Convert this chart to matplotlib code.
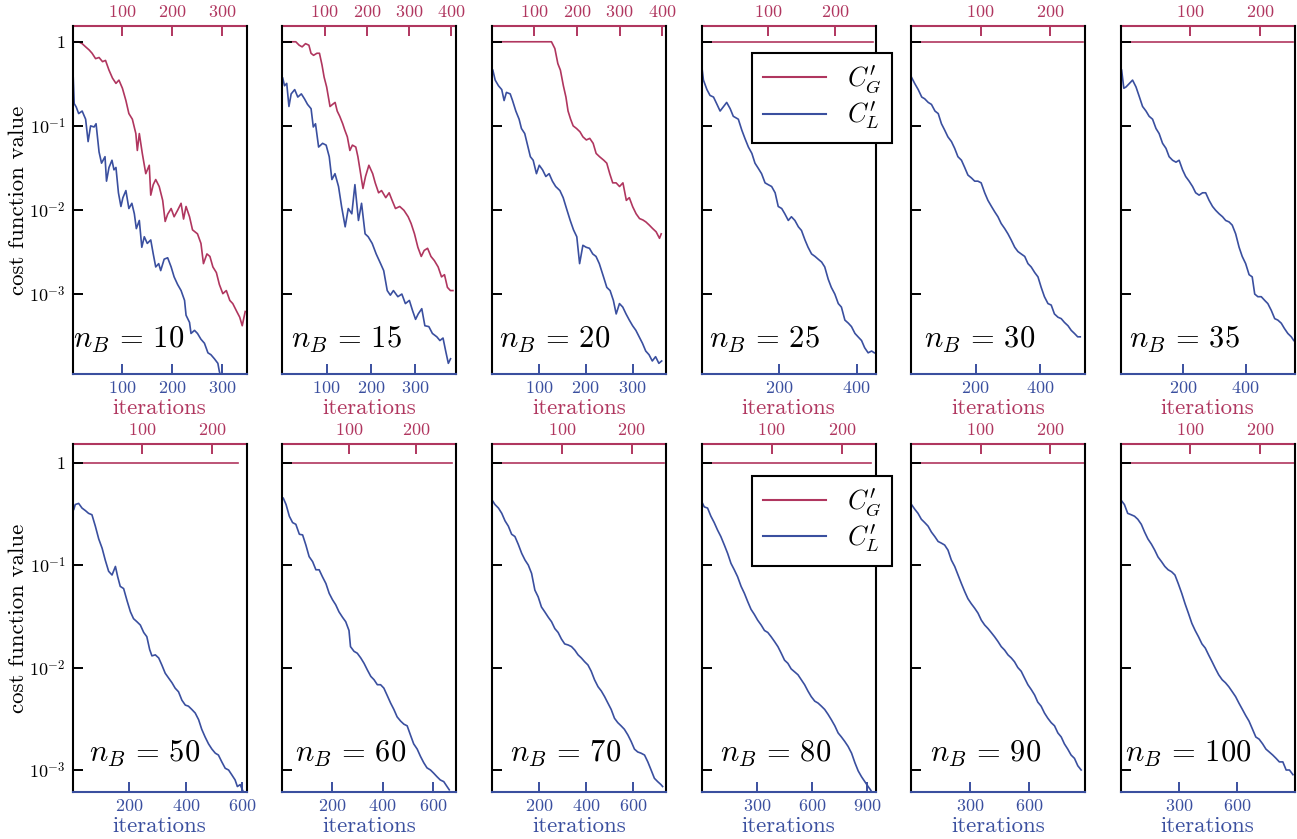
import matplotlib
matplotlib.use("Agg")
import matplotlib.pyplot as plt
from matplotlib.ticker import NullLocator
from matplotlib.lines import Line2D

plt.rcParams["font.family"] = "serif"
plt.rcParams["font.serif"] = ["cmr10", "DejaVu Serif"]
plt.rcParams["mathtext.fontset"] = "cm"
plt.rcParams["axes.formatter.use_mathtext"] = True

RED = "#b0365f"
BLUE = "#3a4f9f"

# -------------------------
# data
# -------------------------

n_b = [10, 15, 20, 25, 30, 35, 50, 60, 70, 80, 90, 100]

# global cost C'_G (top axis iterations)
g10_it = [0, 12, 19, 26, 33, 39, 46, 53, 60, 66, 73, 80, 87, 93, 100, 107, 113, 120, 127, 130, 134,
          140, 147, 154, 157, 162, 167, 174, 181, 186, 191, 198, 204, 211, 218, 223, 228, 235, 241,
          251, 258, 263, 270, 276, 282, 289, 295, 302, 309, 316, 322, 330, 336, 341, 347]
g10_cost = [1.0, 1.0, 0.95, 0.87, 0.80, 0.73, 0.63, 0.65, 0.58, 0.60, 0.46, 0.37, 0.32, 0.35, 0.28,
            0.20, 0.14, 0.12, 0.081, 0.051, 0.081, 0.047, 0.027, 0.034, 0.015, 0.020, 0.023, 0.019,
            0.013, 0.0073, 0.0089, 0.0104, 0.0083, 0.0099, 0.012, 0.0078, 0.011, 0.0083, 0.0058,
            0.0052, 0.0040, 0.0023, 0.0030, 0.0028, 0.0021, 0.0018, 0.0013, 0.00101, 0.0011,
            0.00084, 0.00077, 0.00062, 0.00053, 0.00042, 0.00062]

g15_it = [0, 32, 40, 47, 55, 63, 68, 74, 82, 88, 94, 99, 105, 113, 119, 125, 130, 136, 143, 148, 154,
          160, 166, 174, 179, 184, 191, 197, 205, 214, 220, 228, 235, 245, 253, 260, 268, 278, 288,
          298, 305, 313, 321, 329, 336, 344, 352, 360, 369, 377, 384, 391, 398, 404]
g15_cost = [1.0, 1.0, 0.91, 0.87, 0.95, 0.91, 0.73, 0.69, 0.73, 0.73, 0.53, 0.38, 0.29, 0.17, 0.18,
            0.19, 0.15, 0.13, 0.106, 0.089, 0.074, 0.051, 0.059, 0.056, 0.043, 0.030, 0.018, 0.025,
            0.034, 0.027, 0.021, 0.016, 0.017, 0.014, 0.016, 0.013, 0.0104, 0.011, 0.0099, 0.0083,
            0.0069, 0.0052, 0.0036, 0.0028, 0.0033, 0.0035, 0.0028, 0.0025, 0.0021, 0.0016,
            0.0017, 0.0012, 0.0011, 0.0011]

g20_it = [0, 140, 148, 155, 161, 168, 174, 179, 185, 191, 199, 207, 214, 222, 230, 238, 245, 253,
          263, 270, 277, 284, 292, 300, 308, 316, 323, 331, 339, 347, 355, 362, 370, 378, 386, 394, 398]
g20_cost = [1.0, 1.0, 0.83, 0.55, 0.46, 0.30, 0.22, 0.15, 0.12, 0.10, 0.093, 0.085, 0.074, 0.068,
            0.071, 0.062, 0.047, 0.043, 0.039, 0.036, 0.027, 0.021, 0.021, 0.019, 0.021, 0.013,
            0.014, 0.0109, 0.0090, 0.0079, 0.0076, 0.0072, 0.0066, 0.0060, 0.0055, 0.0046, 0.0052]

g25_it = [0, 257]
g25_cost = [1.0, 1.0]
g30_it = [0, 247]
g30_cost = [1.0, 1.0]
g35_it = [0, 248]
g35_cost = [1.0, 1.0]
g50_it = [0, 237]
g50_cost = [1.0, 1.0]
g60_it = [0, 253]
g60_cost = [1.0, 1.0]
g70_it = [0, 246]
g70_cost = [1.0, 1.0]
g80_it = [0, 241]
g80_cost = [1.0, 1.0]
g90_it = [0, 248]
g90_cost = [1.0, 1.0]
g100_it = [0, 249]
g100_cost = [1.0, 1.0]

# local cost C'_L (bottom axis iterations)
l10_it = [0, 1, 3, 7, 12, 19, 26, 31, 36, 43, 47, 53, 58, 65, 68, 73, 79, 83, 87, 92, 97, 101, 107,
          113, 119, 124, 128, 134, 139, 144, 150, 157, 162, 167, 173, 177, 184, 191, 198, 204, 211,
          218, 225, 228, 235, 238, 245, 251, 258, 265, 272, 278, 285, 292, 295, 299]
l10_cost = [0.42, 0.38, 0.184, 0.168, 0.14, 0.15, 0.12, 0.065, 0.10, 0.097, 0.106, 0.049, 0.036,
            0.043, 0.022, 0.032, 0.039, 0.030, 0.032, 0.016, 0.011, 0.014, 0.017, 0.0104, 0.012,
            0.0090, 0.0060, 0.0075, 0.0036, 0.0048, 0.0040, 0.0044, 0.0030, 0.0021, 0.0023, 0.0019,
            0.0026, 0.0027, 0.0021, 0.0016, 0.0013, 0.0011, 0.00084, 0.00056, 0.00046, 0.00034,
            0.00037, 0.00034, 0.00029, 0.00026, 0.00020, 0.00019, 0.00017, 0.00015, 0.00012, 0.00010]

l15_it = [1, 5, 10, 15, 20, 28, 35, 43, 50, 57, 65, 70, 75, 82, 91, 99, 106, 112, 119, 127, 134, 142,
          149, 157, 164, 172, 179, 187, 194, 203, 212, 222, 229, 237, 244, 251, 261, 270, 278, 287,
          294, 301, 307, 315, 322, 331, 339, 349, 356, 363, 369, 375, 380]
l15_cost = [0.37, 0.30, 0.32, 0.17, 0.24, 0.27, 0.22, 0.24, 0.21, 0.18, 0.16, 0.097, 0.106, 0.056,
            0.062, 0.059, 0.043, 0.023, 0.027, 0.019, 0.0109, 0.0063, 0.0104, 0.0090, 0.020, 0.0075,
            0.012, 0.0052, 0.0048, 0.0040, 0.0030, 0.0023, 0.0019, 0.0011, 0.00097, 0.0011, 0.00093,
            0.0010, 0.00077, 0.00084, 0.00064, 0.00050, 0.00058, 0.00067, 0.00042, 0.00041, 0.00034,
            0.00031, 0.00028, 0.00030, 0.00021, 0.00015, 0.00017]

l20_it = [2, 7, 14, 21, 26, 31, 39, 44, 51, 58, 63, 70, 77, 82, 88, 95, 101, 108, 115, 122, 129, 136,
          145, 152, 160, 167, 174, 181, 187, 194, 201, 208, 215, 222, 229, 238, 245, 252, 259, 265,
          272, 279, 286, 293, 300, 307, 314, 321, 328, 335, 342, 349, 356, 362]
l20_cost = [0.46, 0.35, 0.30, 0.27, 0.20, 0.25, 0.24, 0.20, 0.15, 0.12, 0.093, 0.081, 0.056, 0.043,
            0.039, 0.027, 0.034, 0.030, 0.025, 0.027, 0.022, 0.019, 0.017, 0.014, 0.010, 0.0075,
            0.0058, 0.0048, 0.0023, 0.0038, 0.0036, 0.0035, 0.0030, 0.0028, 0.0023, 0.0016, 0.0012,
            0.0011, 0.00084, 0.00058, 0.00077, 0.00070, 0.00058, 0.00049, 0.00042, 0.00037,
            0.00031, 0.00026, 0.00021, 0.00019, 0.00016, 0.00018, 0.00015, 0.00016]

l25_it = [1, 5, 14, 22, 31, 40, 48, 57, 65, 74, 82, 95, 104, 112, 121, 130, 138, 147, 155, 164, 172,
          181, 190, 198, 207, 215, 224, 232, 241, 250, 258, 267, 275, 284, 293, 301, 310, 318, 327,
          335, 344, 353, 361, 370, 379, 387, 396, 404, 413, 421, 430, 439, 446]
l25_cost = [0.50, 0.35, 0.27, 0.23, 0.22, 0.18, 0.15, 0.17, 0.19, 0.16, 0.13, 0.12, 0.089, 0.071,
            0.056, 0.047, 0.036, 0.031, 0.027, 0.021, 0.020, 0.019, 0.016, 0.011, 0.0104, 0.0090,
            0.0075, 0.0083, 0.0075, 0.0063, 0.0057, 0.0044, 0.0036, 0.0030, 0.0028, 0.0026, 0.0024,
            0.0021, 0.0015, 0.0012, 0.0010, 0.00077, 0.00070, 0.00049, 0.00045, 0.00041, 0.00034,
            0.00031, 0.00028, 0.00023, 0.00020, 0.00021, 0.00020]

l30_it = [1, 11, 22, 33, 42, 53, 63, 74, 84, 94, 104, 114, 125, 135, 145, 156, 166, 176, 187, 197,
          207, 217, 228, 238, 249, 259, 269, 279, 290, 300, 310, 321, 331, 341, 352, 362, 372, 383,
          393, 403, 413, 424, 434, 444, 455, 465, 475, 486, 496, 506, 516, 524]
l30_cost = [0.38, 0.32, 0.27, 0.22, 0.21, 0.19, 0.18, 0.15, 0.14, 0.106, 0.089, 0.074, 0.065, 0.054,
            0.043, 0.039, 0.032, 0.026, 0.024, 0.022, 0.022, 0.021, 0.016, 0.013, 0.011, 0.0095,
            0.0083, 0.0069, 0.0060, 0.0052, 0.0044, 0.0036, 0.0032, 0.0030, 0.0028, 0.0023, 0.0021,
            0.0018, 0.0016, 0.0012, 0.00093, 0.00077, 0.00074, 0.00058, 0.00053, 0.00051, 0.00046,
            0.00042, 0.00037, 0.00034, 0.00031, 0.00031]

l35_it = [3, 10, 17, 28, 38, 49, 60, 70, 81, 91, 102, 113, 123, 134, 145, 155, 166, 177, 187, 198,
          208, 219, 230, 240, 251, 262, 272, 283, 294, 304, 315, 326, 336, 347, 357, 368, 379, 389,
          400, 411, 421, 429, 439, 450, 461, 471, 482, 493, 503, 514, 524, 535, 546, 554]
l35_cost = [0.46, 0.28, 0.29, 0.32, 0.35, 0.29, 0.22, 0.17, 0.15, 0.13, 0.12, 0.093, 0.081, 0.062,
            0.054, 0.043, 0.039, 0.037, 0.039, 0.030, 0.025, 0.022, 0.019, 0.016, 0.015, 0.016,
            0.016, 0.013, 0.011, 0.0099, 0.0090, 0.0083, 0.0075, 0.0072, 0.0066, 0.0052, 0.0036,
            0.0028, 0.0023, 0.0017, 0.0016, 0.0010, 0.00093, 0.00093, 0.00084, 0.00077, 0.00064,
            0.00051, 0.00049, 0.00045, 0.00039, 0.00034, 0.00031, 0.00028]

l50_it = [4, 9, 21, 33, 45, 56, 68, 80, 92, 104, 115, 127, 139, 151, 159, 168, 180, 192, 204, 215,
          227, 239, 251, 262, 272, 280, 292, 304, 315, 327, 339, 351, 362, 374, 386, 398, 409, 421,
          433, 445, 456, 468, 480, 492, 504, 515, 527, 539, 551, 562, 574, 582, 592, 601, 609]
l50_cost = [0.35, 0.39, 0.40, 0.36, 0.34, 0.32, 0.31, 0.24, 0.18, 0.146, 0.112, 0.087, 0.080, 0.097,
            0.077, 0.062, 0.059, 0.045, 0.035, 0.030, 0.028, 0.026, 0.022, 0.020, 0.015, 0.013,
            0.0133, 0.0124, 0.0106, 0.0088, 0.0079, 0.0071, 0.0063, 0.0058, 0.0048, 0.0043, 0.0042,
            0.0039, 0.0036, 0.0031, 0.0025, 0.0021, 0.0018, 0.0016, 0.00146, 0.0014, 0.0012,
            0.00104, 0.0010, 0.0009, 0.0008, 0.00069, 0.00072, 0.00063, 0.00057]

l60_it = [4, 15, 28, 41, 54, 68, 81, 94, 107, 121, 134, 147, 160, 174, 187, 200, 213, 226, 240, 253,
          266, 272, 286, 299, 313, 326, 339, 353, 366, 379, 392, 405, 419, 432, 445, 458, 472, 485,
          498, 511, 524, 538, 551, 564, 577, 591, 604, 617, 630, 644, 657, 666]
l60_cost = [0.45, 0.39, 0.30, 0.26, 0.25, 0.20, 0.197, 0.157, 0.121, 0.108, 0.090, 0.090, 0.077,
            0.066, 0.053, 0.046, 0.041, 0.035, 0.031, 0.028, 0.023, 0.016, 0.0144, 0.0138, 0.0124,
            0.0110, 0.0095, 0.0082, 0.0076, 0.0068, 0.0068, 0.0063, 0.0053, 0.0045, 0.0039, 0.0033,
            0.0030, 0.0028, 0.0027, 0.0022, 0.0018, 0.0016, 0.00136, 0.00118, 0.00105, 0.00100,
            0.00093, 0.00086, 0.00080, 0.00077, 0.00069, 0.00064]

l70_it = [4, 13, 28, 42, 56, 70, 84, 98, 112, 127, 141, 155, 169, 183, 197, 211, 225, 240, 254, 268,
          282, 296, 310, 325, 339, 353, 367, 381, 395, 409, 423, 437, 452, 466, 480, 494, 508, 522,
          536, 550, 564, 579, 593, 607, 621, 635, 650, 664, 678, 692, 706, 720, 727]
l70_cost = [0.42, 0.39, 0.36, 0.32, 0.27, 0.24, 0.20, 0.19, 0.16, 0.13, 0.112, 0.100, 0.083, 0.057,
            0.049, 0.039, 0.035, 0.031, 0.028, 0.024, 0.022, 0.019, 0.017, 0.0166, 0.016, 0.0148,
            0.0133, 0.0124, 0.0114, 0.0106, 0.0092, 0.0076, 0.0065, 0.0059, 0.0052, 0.0045, 0.0039,
            0.0032, 0.0029, 0.0027, 0.0025, 0.0022, 0.0019, 0.0016, 0.0015, 0.00146, 0.0014, 0.0012,
            0.0010, 0.00083, 0.00077, 0.00072, 0.00069]

l80_it = [0, 15, 33, 51, 69, 87, 105, 124, 142, 160, 178, 196, 215, 233, 251, 269, 287, 305, 324,
          342, 360, 378, 396, 415, 433, 451, 469, 487, 505, 524, 542, 560, 578, 596, 615, 633, 651,
          669, 687, 705, 724, 742, 760, 778, 796, 815, 833, 851, 869, 887, 905, 918, 929]
l80_cost = [0.42, 0.37, 0.36, 0.30, 0.26, 0.22, 0.19, 0.157, 0.130, 0.104, 0.090, 0.077, 0.062, 0.053,
            0.044, 0.037, 0.033, 0.029, 0.026, 0.023, 0.022, 0.020, 0.018, 0.016, 0.0138, 0.0118,
            0.0110, 0.0097, 0.0091, 0.0085, 0.0076, 0.0068, 0.0059, 0.0052, 0.0047, 0.0045, 0.0042,
            0.0039, 0.0035, 0.0031, 0.0027, 0.0023, 0.0021, 0.0019, 0.0017, 0.00146, 0.00118,
            0.00098, 0.00086, 0.00077, 0.00069, 0.00064, 0.00059]

l90_it = [2, 19, 35, 52, 69, 86, 103, 120, 137, 153, 170, 187, 204, 221, 238, 255, 272, 288, 305, 322,
          339, 356, 373, 390, 406, 423, 440, 457, 474, 491, 508, 524, 541, 558, 575, 592, 609, 626,
          642, 659, 676, 693, 710, 727, 744, 761, 777, 794, 811, 828, 845, 862]
l90_cost = [0.39, 0.35, 0.32, 0.28, 0.26, 0.24, 0.21, 0.19, 0.17, 0.164, 0.157, 0.14, 0.112, 0.097,
            0.080, 0.066, 0.055, 0.047, 0.042, 0.038, 0.034, 0.029, 0.026, 0.024, 0.022, 0.020,
            0.018, 0.016, 0.0148, 0.0133, 0.0124, 0.0114, 0.0100, 0.0092, 0.0079, 0.0068, 0.0061,
            0.0054, 0.0046, 0.0042, 0.0036, 0.0032, 0.0029, 0.0027, 0.0023, 0.0021, 0.0018, 0.0016,
            0.0014, 0.0013, 0.0011, 0.0010]

l100_it = [2, 19, 36, 54, 71, 88, 106, 123, 140, 158, 175, 192, 210, 227, 244, 262, 279, 296, 314,
           331, 348, 366, 383, 400, 418, 435, 452, 470, 487, 504, 522, 539, 556, 574, 591, 608, 626,
           643, 660, 678, 695, 712, 730, 747, 764, 782, 799, 816, 834, 851, 868, 886]
l100_cost = [0.43, 0.39, 0.32, 0.31, 0.30, 0.28, 0.25, 0.21, 0.18, 0.16, 0.14, 0.12, 0.108, 0.097,
             0.090, 0.086, 0.080, 0.066, 0.053, 0.042, 0.034, 0.027, 0.023, 0.020, 0.017, 0.0155,
             0.0133, 0.0114, 0.0098, 0.0085, 0.0076, 0.0071, 0.0065, 0.0058, 0.0052, 0.0045, 0.0039,
             0.0034, 0.0030, 0.0025, 0.0021, 0.0020, 0.0018, 0.0016, 0.0015, 0.0014, 0.0013, 0.0012,
             0.0012, 0.0010, 0.0010, 0.0009]

global_runs = [(g10_it, g10_cost), (g15_it, g15_cost), (g20_it, g20_cost), (g25_it, g25_cost),
               (g30_it, g30_cost), (g35_it, g35_cost), (g50_it, g50_cost), (g60_it, g60_cost),
               (g70_it, g70_cost), (g80_it, g80_cost), (g90_it, g90_cost), (g100_it, g100_cost)]
local_runs = [(l10_it, l10_cost), (l15_it, l15_cost), (l20_it, l20_cost), (l25_it, l25_cost),
              (l30_it, l30_cost), (l35_it, l35_cost), (l50_it, l50_cost), (l60_it, l60_cost),
              (l70_it, l70_cost), (l80_it, l80_cost), (l90_it, l90_cost), (l100_it, l100_cost)]

# axis ranges and tick steps per panel
bottom_xmax = [350, 393, 371, 449, 539, 557, 615, 694, 741, 945, 882, 895]
top_xmax = [350, 412, 409, 260, 250, 250, 250, 260, 249, 248, 250, 250]
bottom_step = [100, 100, 100, 200, 200, 200, 200, 200, 200, 300, 300, 300]
label_x = [0.64, 0.685, 0.68, 0.68, 0.715, 0.685, 0.735, 0.715, 0.745, 0.745, 0.748, 0.755]

y_ticks = [1, 1e-1, 1e-2, 1e-3]
y_ticklabels = ["$1$", "$10^{-1}$", "$10^{-2}$", "$10^{-3}$"]
row_ylim = [(1.12e-4, 1.54), (6.1e-4, 1.52)]

# -------------------------
# figure
# -------------------------

fig = plt.figure(figsize=(12.97, 8.39), dpi=100)

W, H = 1297.0, 839.0

for i in range(12):

    row, col = divmod(i, 6)

    left = (72.7 + 209.6 * col) / W
    top_px = 26 if row == 0 else 444
    ax = fig.add_axes([left, 1 - (top_px + 348) / H, 174 / W, 348 / H])
    ax2 = ax.twiny()

    ax.set_zorder(ax2.get_zorder() + 1)
    ax.patch.set_visible(False)

    l_it, l_cost = local_runs[i]
    g_it, g_cost = global_runs[i]

    ax.plot(l_it, l_cost, color=BLUE, lw=1.2)
    ax2.plot(g_it, g_cost, color=RED, lw=1.2)

    ax.set_yscale("log")
    ax.set_ylim(*row_ylim[row])
    ax.set_yticks(y_ticks)
    ax.yaxis.set_minor_locator(NullLocator())
    if col == 0:
        ax.set_yticklabels(y_ticklabels)
        ax.set_ylabel("cost function value", fontsize=16.5, labelpad=1)
    else:
        ax.set_yticklabels([])

    ax.set_xlim(0, bottom_xmax[i])
    ax2.set_xlim(0, top_xmax[i])
    ax.set_xticks(list(range(bottom_step[i], bottom_xmax[i] + 1, bottom_step[i])))
    ax2.set_xticks(list(range(100, top_xmax[i] + 1, 100)))
    ax.xaxis.set_minor_locator(NullLocator())
    ax2.xaxis.set_minor_locator(NullLocator())

    ax.tick_params(axis="y", direction="in", length=7.5, width=1.4, color="black",
                   labelsize=13, pad=5)
    ax.tick_params(axis="x", direction="in", length=7, width=1.4, color=BLUE,
                   labelcolor=BLUE, labelsize=13, pad=4)
    ax2.tick_params(axis="x", direction="in", length=7, width=1.4, color=RED,
                    labelcolor=RED, labelsize=13, pad=4)

    for side in ["left", "right"]:
        ax.spines[side].set_linewidth(1.5)
        ax2.spines[side].set_visible(False)
    ax.spines["top"].set_visible(False)
    ax.spines["bottom"].set_color(BLUE)
    ax.spines["bottom"].set_linewidth(1.5)
    ax2.spines["bottom"].set_visible(False)
    ax2.spines["top"].set_color(RED)
    ax2.spines["top"].set_linewidth(1.5)

    ax.set_xlabel("iterations", fontsize=16.5, color=RED if row == 0 else BLUE, labelpad=2)

    ax.text(label_x[i], 0.075 if row == 0 else 0.087, r"$n_B\,=\,%d$" % n_b[i],
            transform=ax.transAxes, ha="right", va="baseline", fontsize=22)

    if col == 3:
        handles = [Line2D([], [], color=RED, lw=1.5), Line2D([], [], color=BLUE, lw=1.5)]
        leg = ax.legend(handles, [r"$C^{\prime}_{G}$", r"$C^{\prime}_{L}$"], loc="upper left",
                        bbox_to_anchor=(0.29, 0.922 if row == 0 else 0.908),
                        borderaxespad=0, fontsize=19, handlelength=2.4, fancybox=False,
                        framealpha=1, edgecolor="black", labelspacing=0.15,
                        borderpad=0.4, handletextpad=0.8)
        leg.get_frame().set_linewidth(1.5)
        leg.set_zorder(10)

fig.savefig("out.png", dpi=100)
